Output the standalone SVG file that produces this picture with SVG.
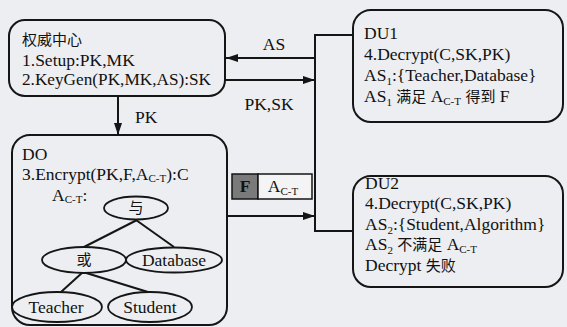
<svg xmlns="http://www.w3.org/2000/svg" width="567" height="327" viewBox="0 0 567 327">
<defs>
<marker id="ah" viewBox="0 0 12 8" refX="12" refY="4" markerWidth="12" markerHeight="8" markerUnits="userSpaceOnUse" orient="auto">
<path d="M0,0 L12,4 L0,8 Z" fill="#151515"/>
</marker>
<style>
.box{fill:none;stroke:#151515;stroke-width:2}
.ln{fill:none;stroke:#151515;stroke-width:2}
.el{fill:#eceef1;stroke:#151515;stroke-width:1.8}
.t{font-family:"Liberation Serif","Noto Sans CJK SC",serif;font-size:17.5px;fill:#111}
.c{text-anchor:middle}
.sub{font-size:11px}
.cjk{font-size:15px}
</style>
</defs>
<rect x="0" y="0" width="567" height="327" fill="#eceef1"/>

<g id="authority">
<rect class="box" x="9" y="20" width="216" height="76" rx="16"/>
<text class="t" x="22" y="45"><tspan class="cjk">权威中心</tspan></text>
<text class="t" x="22" y="66">1.Setup:PK,MK</text>
<text class="t" x="22" y="85" textLength="189" lengthAdjust="spacingAndGlyphs">2.KeyGen(PK,MK,AS):SK</text>
</g>

<g id="du1">
<rect class="box" x="353" y="10" width="210" height="112" rx="18"/>
<text class="t" x="364" y="39">DU1</text>
<text class="t" x="364" y="60">4.Decrypt(C,SK,PK)</text>
<text class="t" x="364" y="81">AS<tspan class="sub" dy="4">1</tspan><tspan dy="-4">:{Teacher,Database}</tspan></text>
<text class="t" x="364" y="102">AS<tspan class="sub" dy="4">1</tspan><tspan dy="-4"> </tspan><tspan class="cjk">满足</tspan> A<tspan class="sub" dy="3">C-T</tspan><tspan dy="-3"> </tspan><tspan class="cjk">得到</tspan> F</text>
</g>

<g id="do">
<rect class="box" x="12" y="135" width="215" height="190" rx="18"/>
<text class="t" x="22" y="160">DO</text>
<text class="t" x="22" y="180">3.Encrypt(PK,F,A<tspan class="sub" dy="2">C-T</tspan><tspan dy="-2">):C</tspan></text>
<text class="t" x="52" y="201">A<tspan class="sub" dy="2">C-T</tspan><tspan dy="-2">:</tspan></text>
<g id="tree-lines">
<line class="ln" x1="137" y1="220" x2="84" y2="247"/>
<line class="ln" x1="136" y1="220" x2="174" y2="247"/>
<line class="ln" x1="83" y1="272" x2="61" y2="292"/>
<line class="ln" x1="83" y1="272" x2="148" y2="292"/>
</g>
<g id="and">
<ellipse class="el" cx="136" cy="208" rx="32" ry="11.5"/>
<text class="t c" x="136" y="213"><tspan class="cjk" font-size="14">与</tspan></text>
</g>
<g id="or">
<ellipse class="el" cx="84" cy="260" rx="42" ry="13"/>
<text class="t c" x="84" y="265"><tspan class="cjk" font-size="14">或</tspan></text>
</g>
<g id="database">
<ellipse class="el" cx="174" cy="260" rx="48" ry="12.5"/>
<text class="t c" x="174" y="266">Database</text>
</g>
<g id="teacher">
<ellipse class="el" cx="57" cy="307" rx="45" ry="15"/>
<text class="t c" x="56" y="313" font-size="18">Teacher</text>
</g>
<g id="student">
<ellipse class="el" cx="150" cy="307" rx="42" ry="15"/>
<text class="t c" x="150" y="313" font-size="18">Student</text>
</g>
</g>

<g id="du2">
<rect class="box" x="353" y="176" width="210" height="111" rx="18"/>
<text class="t" x="365" y="189">DU2</text>
<text class="t" x="365" y="209">4.Decrypt(C,SK,PK)</text>
<text class="t" x="365" y="230">AS<tspan class="sub" dy="4">2</tspan><tspan dy="-4">:{Student,Algorithm}</tspan></text>
<text class="t" x="365" y="250">AS<tspan class="sub" dy="4">2</tspan><tspan dy="-4"> </tspan><tspan class="cjk">不满足</tspan> A<tspan class="sub" dy="3">C-T</tspan></text>
<text class="t" x="365" y="271">Decrypt <tspan class="cjk">失败</tspan></text>
</g>

<g id="ciphertext">
<rect x="232" y="174" width="26" height="25" fill="#7a7a7a" stroke="#151515" stroke-width="1.5"/>
<rect x="258" y="174" width="54" height="25" fill="#f4f4f4" stroke="#151515" stroke-width="1.5"/>
<text class="t c" x="245" y="192" font-weight="bold">F</text>
<text class="t c" x="283" y="192">A<tspan class="sub" dy="3">C-T</tspan></text>
</g>

<g id="connectors">
<polyline class="ln" points="353,35 315,35 315,231 353,231"/>
<line class="ln" x1="315" y1="58" x2="226" y2="58" marker-end="url(#ah)"/>
<line class="ln" x1="225" y1="80" x2="315" y2="80" marker-end="url(#ah)"/>
<line class="ln" x1="118" y1="96" x2="118" y2="135" marker-end="url(#ah)"/>
<line class="ln" x1="227" y1="216" x2="315" y2="216" marker-end="url(#ah)"/>
<text class="t c" x="274" y="50">AS</text>
<text class="t c" x="269" y="110">PK,SK</text>
<text class="t" x="135" y="123">PK</text>
</g>
</svg>
